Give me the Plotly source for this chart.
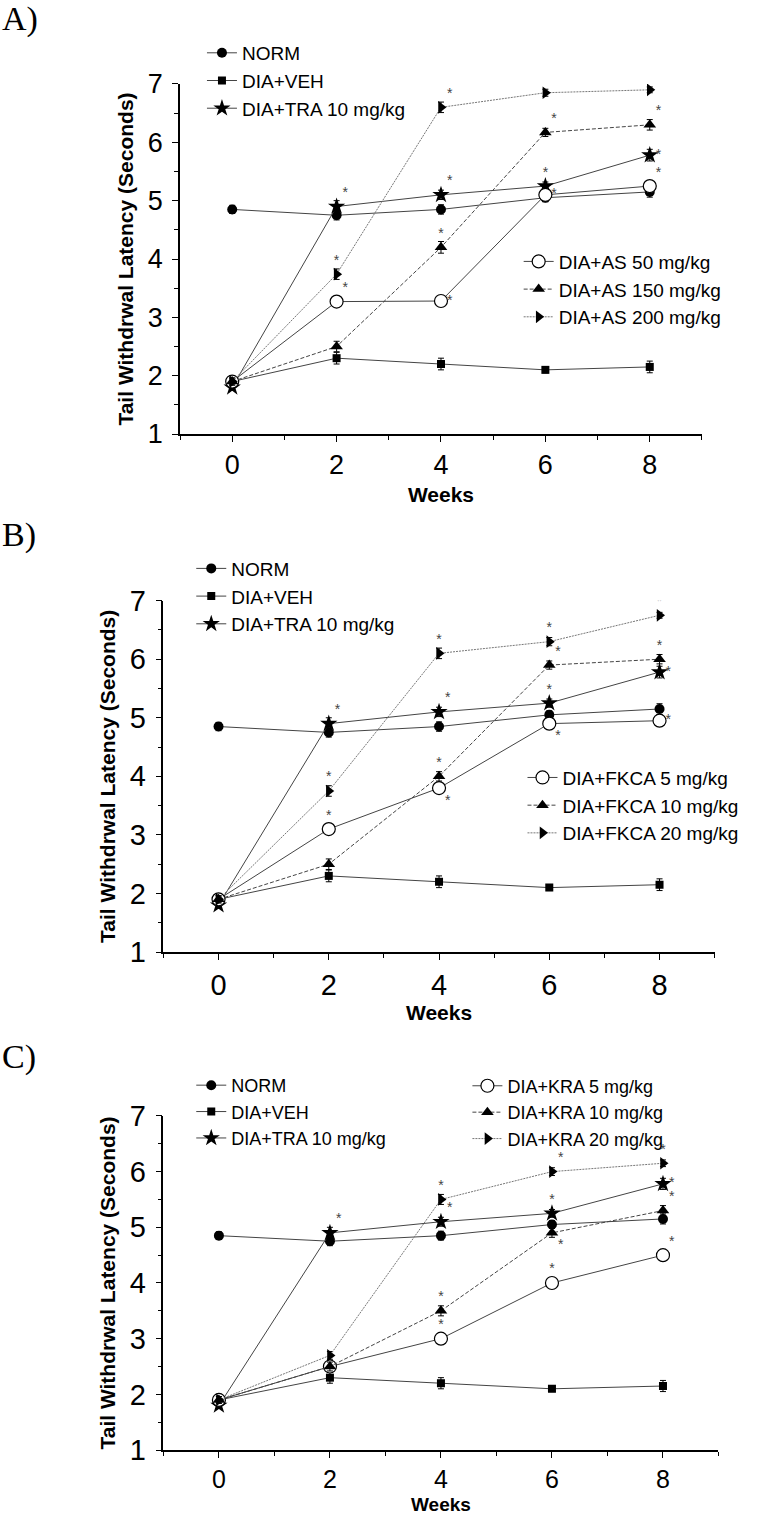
import plotly.graph_objects as go

# ---------------- data ----------------
weeks = [0, 2, 4, 6, 8]

norm = [4.85, 4.75, 4.85, 5.05, 5.15]
norm_err = [0.07, 0.08, 0.08, 0.07, 0.09]
veh = [1.90, 2.30, 2.20, 2.10, 2.15]
veh_err = [0.07, 0.10, 0.10, 0.05, 0.10]
tra = [1.80, 4.90, 5.10, 5.25, 5.78]
tra_err = [0.05, 0.10, 0.08, 0.07, 0.10]
tra_sig = [0, 1, 1, 1, 1]

# Panel A
as50 = [1.90, 3.27, 3.28, 5.10, 5.25]
as50_err = [0.06, 0.07, 0.07, 0.07, 0.07]
as50_sig = [0, 1, 1, 1, 1]
as150 = [1.90, 2.50, 4.20, 6.17, 6.30]
as150_err = [0.06, 0.09, 0.10, 0.07, 0.09]
as150_sig = [0, 0, 1, 1, 1]
as200 = [1.90, 3.74, 6.60, 6.85, 6.90]
as200_err = [0.06, 0.09, 0.09, 0.06, 0.05]
as200_sig = [0, 1, 1, 1, 1]

# Panel B
fk5 = [1.90, 3.10, 3.80, 4.90, 4.95]
fk5_err = [0.06, 0.08, 0.08, 0.08, 0.08]
fk5_sig = [0, 1, 1, 1, 1]
fk10 = [1.90, 2.50, 4.00, 5.90, 6.00]
fk10_err = [0.06, 0.09, 0.08, 0.07, 0.08]
fk10_sig = [0, 0, 1, 1, 1]
fk20 = [1.90, 3.75, 6.10, 6.30, 6.75]
fk20_err = [0.06, 0.09, 0.09, 0.07, 0.05]
fk20_sig = [0, 1, 1, 1, 1]

# Panel C
kra5 = [1.90, 2.50, 3.00, 4.00, 4.50]
kra5_err = [0.06, 0.08, 0.08, 0.07, 0.08]
kra5_sig = [0, 0, 1, 1, 1]
kra10 = [1.90, 2.50, 3.50, 4.90, 5.30]
kra10_err = [0.06, 0.08, 0.09, 0.08, 0.09]
kra10_sig = [0, 0, 1, 1, 1]
kra20 = [1.90, 2.70, 5.50, 6.00, 6.15]
kra20_err = [0.06, 0.07, 0.09, 0.07, 0.06]
kra20_sig = [0, 0, 1, 1, 1]

x_ticks = [0, 2, 4, 6, 8]
y_ticks = [1, 2, 3, 4, 5, 6, 7]
x_title = "Weeks"
y_title = "Tail Withdrwal Latency (Seconds)"

# ---------------- style ----------------
FONT = "Arial, 'Liberation Sans', sans-serif"

TRA_POS = ["", "top right", "top right", "top center", "middle right"]

panels = [
    dict(
        label="A)", suffix="", domx=[0.2353, 0.9176], domy=[0.7137, 0.9446],
        leg1=dict(x=0.264, y=0.9776), leg2=dict(x=0.678, y=0.8400), legfont=19,
        tickfont=27, xtickfont=27, xtitle_stand=8, xtitle_annot=False, xtitle_size=21,
        doses=[
            ("DIA+AS 50 mg/kg", as50, as50_err, as50_sig,
             ["", "top right", "middle right", "middle right", "top right"]),
            ("DIA+AS 150 mg/kg", as150, as150_err, as150_sig,
             ["", "", "top center", "top right", "top right"]),
            ("DIA+AS 200 mg/kg", as200, as200_err, as200_sig,
             ["", "top center", "top right", "top right", "top right"]),
        ],
        label_y=0.9875,
    ),
    dict(
        label="B)", suffix="2", domx=[0.2136, 0.9342], domy=[0.372, 0.6038],
        leg1=dict(x=0.250, y=0.6375), leg2=dict(x=0.683, y=0.4996), legfont=19,
        tickfont=29, xtickfont=29, xtitle_stand=6, xtitle_annot=False, xtitle_size=21,
        doses=[
            ("DIA+FKCA 5 mg/kg", fk5, fk5_err, fk5_sig,
             ["", "top center", "bottom right", "bottom right", "middle right"]),
            ("DIA+FKCA 10 mg/kg", fk10, fk10_err, fk10_sig,
             ["", "", "top center", "top right", "top center"]),
            ("DIA+FKCA 20 mg/kg", fk20, fk20_err, fk20_sig,
             ["", "top center", "top center", "top center", "top center"]),
        ],
        label_y=1 - 535 / 1516,
    ),
    dict(
        label="C)", suffix="3", domx=[0.2136, 0.9392], domy=[0.0435, 0.2639],
        leg1=dict(x=0.250, y=0.2962), leg2=dict(x=0.611, y=0.2958), legfont=18,
        tickfont=29, xtickfont=25, xtitle_stand=4, xtitle_annot=True, xtitle_size=19,
        doses=[
            ("DIA+KRA 5 mg/kg", kra5, kra5_err, kra5_sig,
             ["", "", "top center", "top center", "top right"]),
            ("DIA+KRA 10 mg/kg", kra10, kra10_err, kra10_sig,
             ["", "", "top center", "bottom right", "top right"]),
            ("DIA+KRA 20 mg/kg", kra20, kra20_err, kra20_sig,
             ["", "", "top center", "top right", "top center"]),
        ],
        label_y=1 - 1057 / 1516,
    ),
]

dose_styles = [
    dict(line=dict(color="#444", width=1, dash="solid"),
         marker=dict(symbol="circle", size=13, color="white", line=dict(color="black", width=1.2))),
    dict(line=dict(color="#444", width=1, dash="4px,2px"),
         marker=dict(symbol="triangle-up", size=11, color="black", line=dict(width=0))),
    dict(line=dict(color="#777", width=1, dash="2px,1px"),
         marker=dict(symbol="triangle-right", size=11, color="black", line=dict(width=0))),
]

base_groups = [
    ("NORM", norm, norm_err, [0] * 5, TRA_POS,
     dict(line=dict(color="#444", width=1),
          marker=dict(symbol="circle", size=10, color="black", line=dict(width=0)))),
    ("DIA+VEH", veh, veh_err, [0] * 5, TRA_POS,
     dict(line=dict(color="#444", width=1),
          marker=dict(symbol="square", size=8, color="black", line=dict(width=0)))),
    ("DIA+TRA 10 mg/kg", tra, tra_err, tra_sig, TRA_POS,
     dict(line=dict(color="#444", width=1),
          marker=dict(symbol="star", size=13, color="black", line=dict(width=0)))),
]

fig = go.Figure()
layout = dict(
    width=765, height=1516,
    margin=dict(l=0, r=0, t=0, b=0),
    paper_bgcolor="white", plot_bgcolor="white",
    font=dict(family=FONT, color="black"),
    annotations=[],
)

for pi, p in enumerate(panels):
    sx = "x" + p["suffix"]
    sy = "y" + p["suffix"]
    leg_a = "legend" if pi == 0 else f"legend{2 * pi + 1}"
    leg_b = f"legend{2 * pi + 2}"

    groups = [g + (leg_a,) for g in base_groups]
    for (name, vals, errs, sig, pos), st in zip(p["doses"], dose_styles):
        groups.append((name, vals, errs, sig, pos, st, leg_b))

    for name, vals, errs, sig, pos, st, leg in groups:
        fig.add_trace(go.Scatter(
            x=weeks, y=vals, name=name, mode="lines+markers",
            line=st["line"], marker=st["marker"],
            error_y=dict(type="data", array=errs, visible=True,
                         color="black", thickness=1, width=3),
            xaxis=sx, yaxis=sy, legend=leg, showlegend=True,
            hoverinfo="skip",
        ))
    for name, vals, errs, sig, pos, st, leg in groups:
        if not any(sig):
            continue
        fig.add_trace(go.Scatter(
            x=weeks, y=vals, mode="markers+text",
            text=["*" if s else "" for s in sig],
            textposition=[pp if s else "top right" for pp, s in zip(pos, sig)],
            textfont=dict(size=14, color="#444", family=FONT),
            marker=dict(size=8, opacity=0),
            xaxis=sx, yaxis=sy, showlegend=False, hoverinfo="skip",
        ))

    title_font = dict(size=21, family=FONT)
    xt_font = dict(size=p["xtitle_size"], family=FONT)
    if not p["xtitle_annot"]:
        xtitle = dict(text=f"<b>{x_title}</b>", font=xt_font, standoff=p["xtitle_stand"])
    else:
        xtitle = dict(text="")
        dx = p["domx"]
        layout["annotations"].append(dict(
            text=f"<b>{x_title}</b>", xref="paper", yref="paper",
            x=(dx[0] + dx[1]) / 2, y=0,
            xanchor="center", yanchor="bottom", showarrow=False, font=xt_font,
            borderpad=0,
        ))

    xa = dict(
        domain=p["domx"], anchor=sy, range=[-1, 9],
        tickmode="array", tickvals=x_ticks,
        showline=True, linecolor="black", linewidth=1.5,
        ticks="outside", ticklen=6, tickwidth=1.2, tickcolor="black",
        minor=dict(ticks="outside", ticklen=4, dtick=1, tick0=-1, tickcolor="black", tickwidth=1),
        showgrid=False, zeroline=False,
        tickfont=dict(size=p["xtickfont"], family=FONT),
        title=xtitle,
        automargin=False,
    )
    ya = dict(
        domain=p["domy"], anchor=sx, range=[1, 7],
        tickmode="array", tickvals=y_ticks,
        showline=True, linecolor="black", linewidth=1.5,
        ticks="outside", ticklen=6, tickwidth=1.2, tickcolor="black",
        minor=dict(ticks="outside", ticklen=4, dtick=0.5, tick0=1, tickcolor="black", tickwidth=1),
        showgrid=False, zeroline=False,
        tickfont=dict(size=p["tickfont"], family=FONT),
        ticklabelstandoff=4,
        title=dict(text=f"<b>{y_title}</b>", font=title_font, standoff=8),
        automargin=False,
    )
    layout["xaxis" + p["suffix"]] = xa
    layout["yaxis" + p["suffix"]] = ya

    for leg, pos in ((leg_a, p["leg1"]), (leg_b, p["leg2"])):
        layout[leg] = dict(
            x=pos["x"], y=pos["y"], xanchor="left", yanchor="top",
            bgcolor="rgba(0,0,0,0)", borderwidth=0,
            font=dict(size=p["legfont"], family=FONT, color="black"),
            itemwidth=30, tracegroupgap=0,
        )

    layout["annotations"].append(dict(
        text=p["label"], xref="paper", yref="paper", x=0.0, y=p["label_y"],
        xanchor="left", yanchor="middle", showarrow=False,
        font=dict(size=34, family="'Times New Roman', 'Liberation Serif', serif", color="black"),
    ))

fig.update_layout(**layout)
fig.write_html("out.html", config={"displayModeBar": False},
               post_script="document.body.style.margin='0';")
